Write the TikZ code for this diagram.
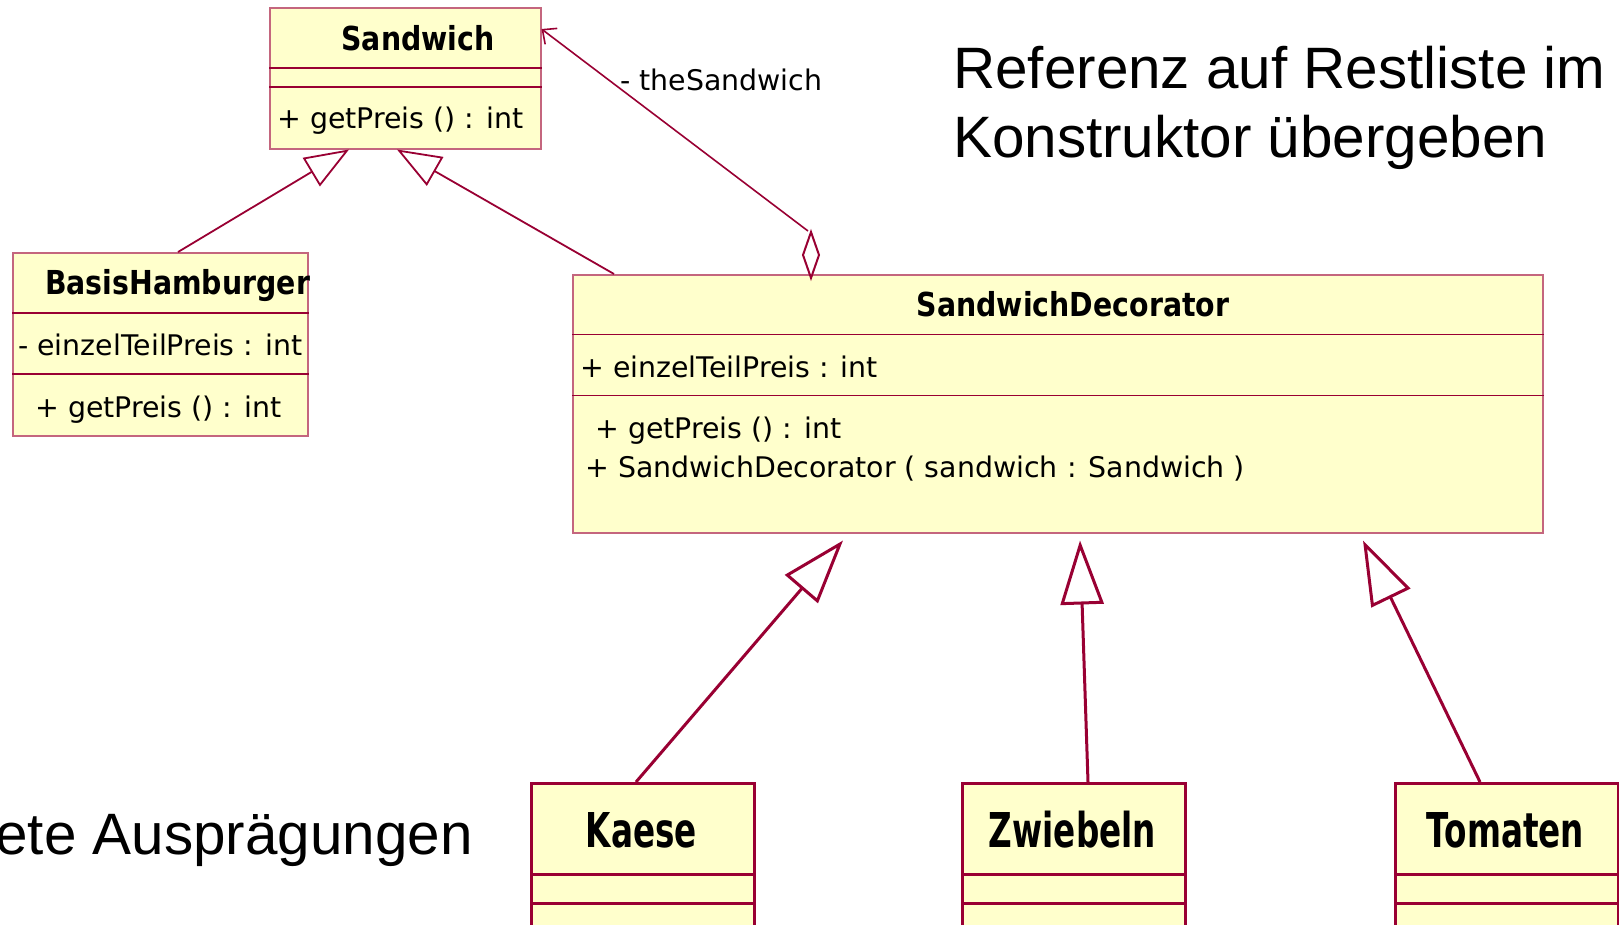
\documentclass[tikz,border=0pt]{standalone}
\usepackage{fontspec}
\setmainfont{DejaVu Sans}
\newfontfamily\bodyfont{DejaVu Sans}
\newfontfamily\headfont[FakeStretch=0.86]{DejaVu Sans}
\newfontfamily\leaffont[FakeStretch=0.68]{DejaVu Sans}
\newfontfamily\notefont{Liberation Sans}
\usetikzlibrary{arrows.meta}
\definecolor{umlline}{HTML}{990033}
\definecolor{umlfill}{HTML}{FFFFCC}
\definecolor{umlframe}{HTML}{C4667E}

\begin{document}
\begin{tikzpicture}[x=1pt,y=-1pt,
  classbox/.style={draw=umlframe, line width=1.5pt, fill=umlfill, inner sep=0pt, anchor=north west},
  leafbox/.style={draw=umlline, line width=3pt, fill=umlfill, inner sep=0pt, anchor=north west},
  sep/.style={draw=umlline, line width=1.2pt},
  leafsep/.style={draw=umlline, line width=3pt},
  member/.style={inner sep=0pt, anchor=base west, font=\bodyfont\fontsize{28.4}{32}\selectfont},
  head/.style={inner sep=0pt, anchor=base, font=\headfont\bfseries\fontsize{33}{36}\selectfont},
  leafhead/.style={inner sep=0pt, anchor=base, font=\leaffont\bfseries\fontsize{48}{50}\selectfont},
  note/.style={inner sep=0pt, anchor=base west, font=\notefont\fontsize{58.4}{69}\selectfont},
  inherit/.style={draw=umlline, line width=1.8pt, -{Triangle[open,length=44pt,width=33pt]}},
  inheritbig/.style={draw=umlline, line width=3pt, -{Triangle[open,length=64pt,width=43pt]}},
  assoc/.style={draw=umlline, line width=1.6pt, -{Straight Barb[length=11pt,width=20pt]}},
]
\useasboundingbox (0,0) rectangle (1619,924);
\fill[white] (0,0) rectangle (1619,924);

% ---- class boxes ----
\node[classbox, minimum width=271, minimum height=141] (sand) at (269,7) {};
\draw[sep] (sand.west |- 0,68) -- (sand.east |- 0,68);
\draw[sep] (sand.west |- 0,87) -- (sand.east |- 0,87);

\node[classbox, minimum width=295, minimum height=183] (bh) at (12,252) {};
\draw[sep] (bh.west |- 0,313) -- (bh.east |- 0,313);
\draw[sep] (bh.west |- 0,374) -- (bh.east |- 0,374);

\node[classbox, minimum width=970, minimum height=258] (sd) at (572,274) {};
\draw[sep] (sd.west |- 0,334.5) -- (sd.east |- 0,334.5);
\draw[sep] (sd.west |- 0,395.5) -- (sd.east |- 0,395.5);

\node[leafbox, minimum width=223, minimum height=170] (kaese) at (530,782) {};
\node[leafbox, minimum width=223, minimum height=170] (zwiebeln) at (961,782) {};
\node[leafbox, minimum width=223, minimum height=170] (tomaten) at (1394,782) {};
\foreach \b in {kaese,zwiebeln,tomaten}{
  \draw[leafsep] (\b.west |- 0,874.5) -- (\b.east |- 0,874.5);
  \draw[leafsep] (\b.west |- 0,903.5) -- (\b.east |- 0,903.5);
}

% ---- class texts ----
\node[head] (sandT) at (418,50) {Sandwich};
\node[member] (sandOp) at (277,128) {+ getPreis () : int};

\node[head, anchor=base west] (bhT) at (45,294) {BasisHamburger};
\node[member] (bhAttr) at (18,355) {- einzelTeilPreis : int};
\node[member] (bhOp) at (35,417) {+ getPreis () : int};

\node[head] (sdT) at (1073,316) {SandwichDecorator};
\node[member] (sdAttr) at (580,377) {+ einzelTeilPreis : int};
\node[member] (sdOp1) at (595,438) {+ getPreis () : int};
\node[member] (sdOp2) at (585,477) {+ SandwichDecorator ( sandwich : Sandwich )};

\node[leafhead] (kaeseT) at (641.5,847) {Kaese};
\node[leafhead] (zwiebelnT) at (1072.5,847) {Zwiebeln};
\node[leafhead] (tomatenT) at (1505.5,847) {Tomaten};

% ---- notes ----
\node[note] (note1) at (953,88) {Referenz auf Restliste im};
\node[note] (note2) at (953,157) {Konstruktor übergeben};
\node[note, anchor=base east] (note3) at (473,854) {ete Ausprägungen};

% ---- generalizations ----
\draw[inherit] ([xshift=166pt]bh.north west) -- ([xshift=80pt]sand.south west);
\draw[inherit] ([xshift=42pt]sd.north west) -- ([xshift=128pt]sand.south west);
\draw[inheritbig] ([xshift=106pt]kaese.north west) -- ([xshift=271pt,yshift=-7pt]sd.south west);
\draw[inheritbig] ([xshift=127pt]zwiebeln.north west) -- ([xshift=508pt,yshift=-7pt]sd.south west);
\draw[inheritbig] ([xshift=86pt]tomaten.north west) -- ([xshift=791pt,yshift=-7pt]sd.south west);

% ---- aggregation with role name ----
\draw[draw=umlline, line width=2pt, fill=white, line join=miter]
  (811,232) -- (819,255) -- (811,278) -- (803,255) -- cycle;
\coordinate (diatop) at (808,231);
\draw[assoc] (diatop) -- ([yshift=-22pt]sand.north east);
\node[member] (role) at (620,90) {- theSandwich};
\end{tikzpicture}
\end{document}
